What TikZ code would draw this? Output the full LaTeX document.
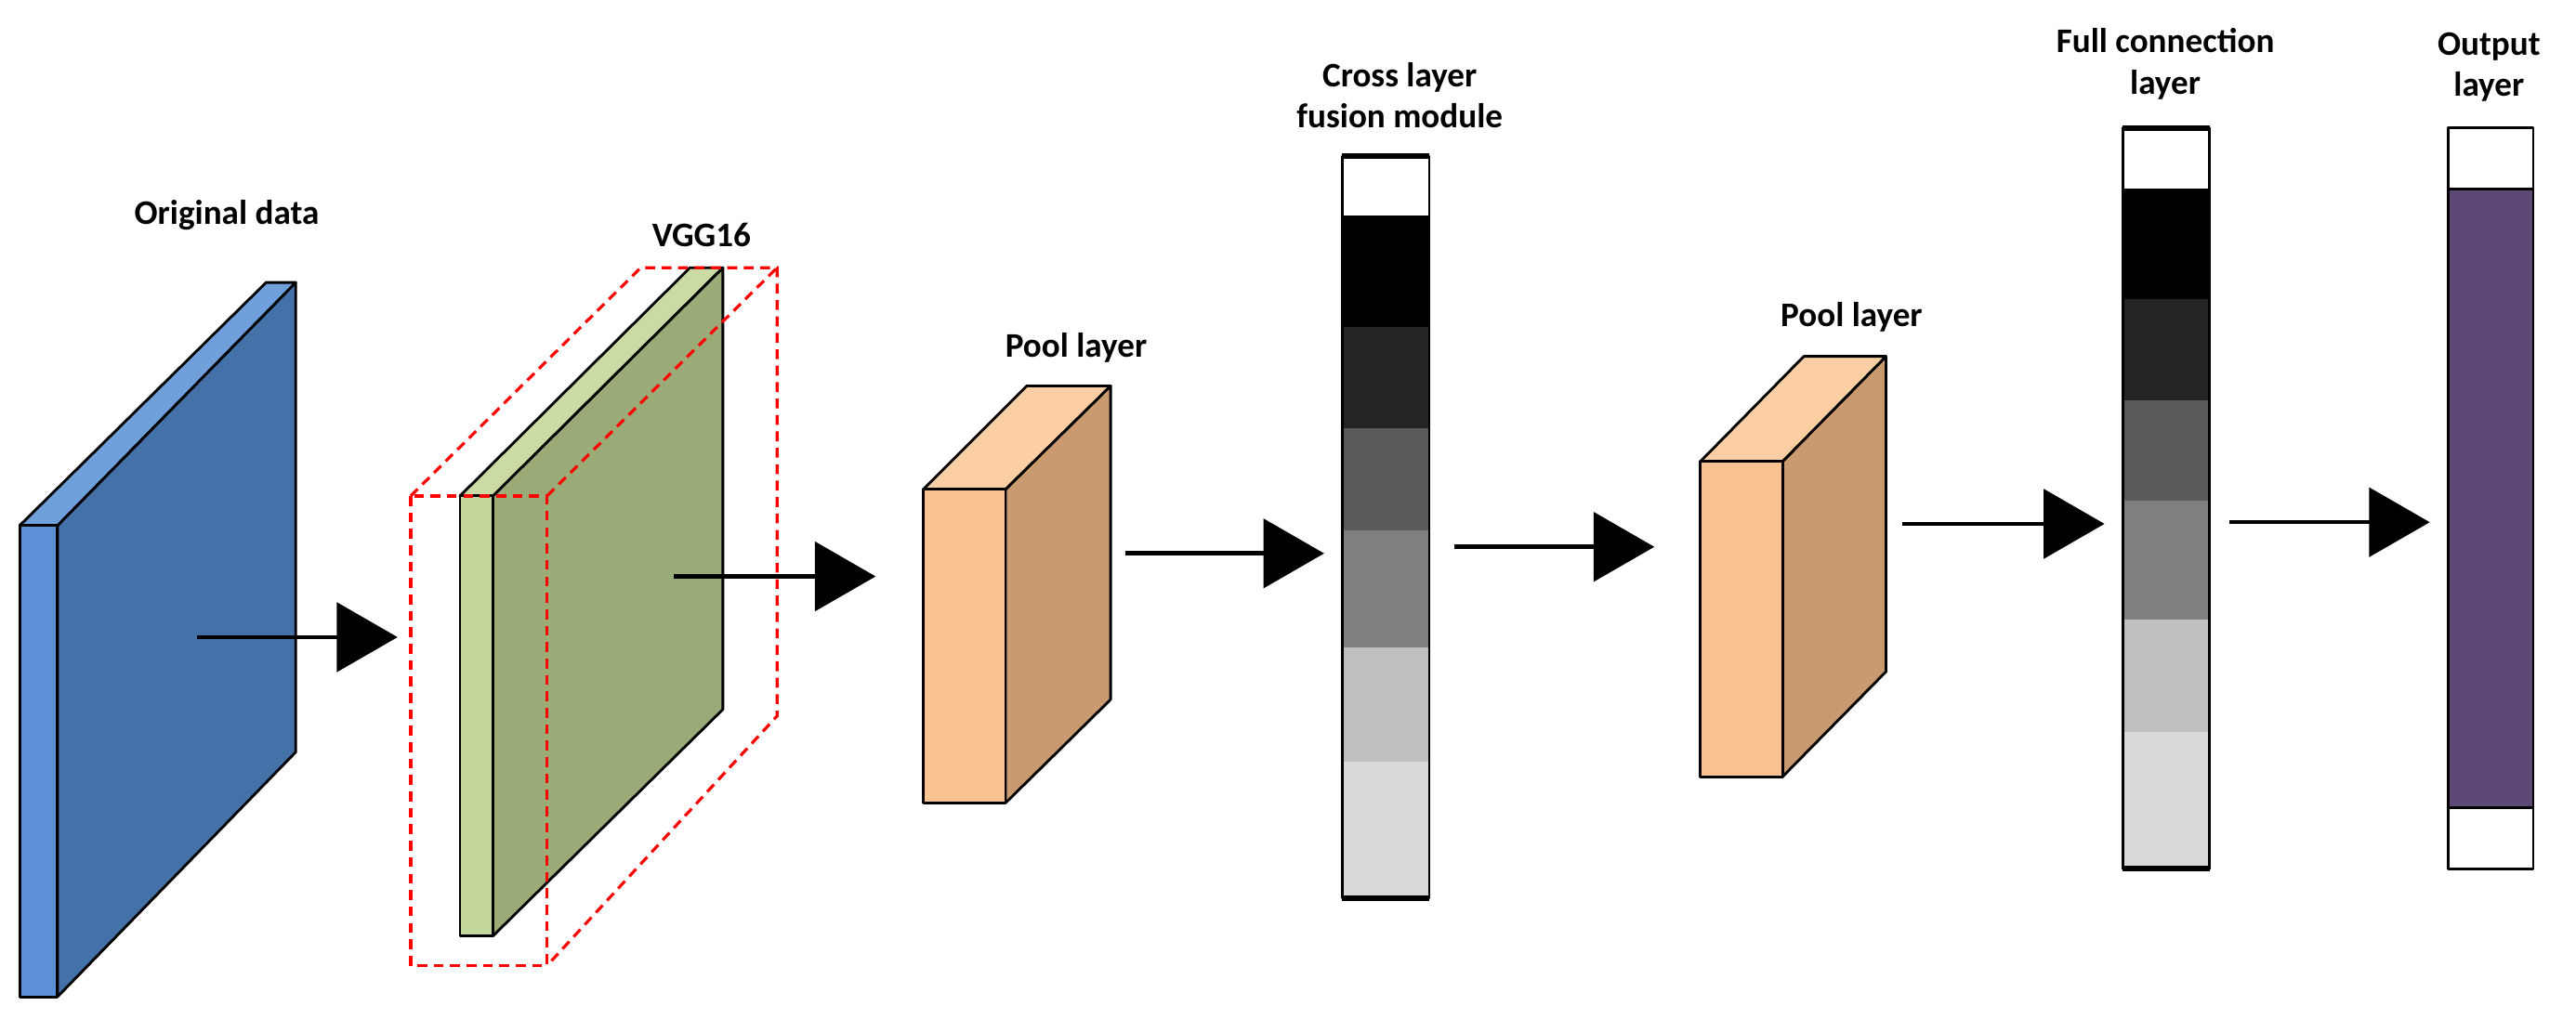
\documentclass[tikz,border=0pt]{standalone}
\usepackage{fontspec}
\setmainfont{Carlito}
\usetikzlibrary{arrows.meta}
\definecolor{bluemain}{HTML}{4472A8}
\definecolor{bluefront}{HTML}{5B8FD6}
\definecolor{bluetop}{HTML}{70A0DC}
\definecolor{greenmain}{HTML}{9BAB78}
\definecolor{greenfront}{HTML}{C3D69B}
\definecolor{greentop}{HTML}{CADBA5}
\definecolor{poolfront}{HTML}{F8C291}
\definecolor{poolside}{HTML}{C9996F}
\definecolor{pooltop}{HTML}{FBCFA3}
\definecolor{g1}{HTML}{242424}
\definecolor{g2}{HTML}{595959}
\definecolor{g3}{HTML}{7F7F7F}
\definecolor{g4}{HTML}{BFBFBF}
\definecolor{g5}{HTML}{D9D9D9}
\definecolor{purp}{HTML}{5E4878}
\begin{document}
\begin{tikzpicture}[x=0.5pt,y=-0.5pt,
  face/.style={draw=black,line width=0.8pt,line join=round},
  flow/.style={line width=1.3pt,-{Triangle[length=18.5pt,width=21pt]}},
  lbl/.style={font=\fontsize{10.5}{12.5}\selectfont\bfseries,align=center},
  red dash/.style={draw=red,line width=0.9pt,dash pattern=on 3pt off 2pt}]
\useasboundingbox (0,0) rectangle (1568,628);
% Original data slab
\fill[bluemain,face] (35,320) -- (180,172) -- (180,458) -- (35,607) -- cycle;
\fill[bluetop,face] (12,320) -- (162,172) -- (180,172) -- (35,320) -- cycle;
\fill[bluefront,face] (12,320) rectangle (35,607);
\node[lbl] (orig) at (138,131) {Original data};
% VGG16 slab
\fill[greenmain,face] (300,302) -- (440,163) -- (440,432) -- (300,570) -- cycle;
\fill[greentop,face] (280,302) -- (420,163) -- (440,163) -- (300,302) -- cycle;
\fill[greenfront,face] (280,302) rectangle (300,570);
\draw[red dash] (250,302) rectangle (333,588);
\draw[red dash] (250,302) -- (390,163) -- (473,163) -- (473,436) -- (333,588);
\draw[red dash] (333,302) -- (473,163);
\node[lbl] (vgg) at (427,143) {VGG16};
% Pool layer 1
\fill[poolside,face] (612,298) -- (676,235) -- (676,426) -- (612,489) -- cycle;
\fill[pooltop,face] (562,298) -- (625,235) -- (676,235) -- (612,298) -- cycle;
\fill[poolfront,face] (562,298) rectangle (612,489);
\node[lbl] (pl1) at (655,212) {Pool layer};
% Cross layer fusion column
\fill[white] (817,95) rectangle (870,131);
\fill[black] (817,131) rectangle (870,199);
\fill[g1] (817,199) rectangle (870,261);
\fill[g2] (817,261) rectangle (870,323);
\fill[g3] (817,323) rectangle (870,394);
\fill[g4] (817,394) rectangle (870,464);
\fill[g5] (817,464) rectangle (870,547);
\draw[face] (817,95) rectangle (870,547);
\draw[line width=1.6pt] (817,95) -- (870,95) (817,547) -- (870,547);
\node[lbl] (clf) at (852,58) {Cross layer\\fusion module};
% Pool layer 2
\fill[poolside,face] (1085,281) -- (1148,217) -- (1148,409) -- (1085,473) -- cycle;
\fill[pooltop,face] (1035,281) -- (1098,217) -- (1148,217) -- (1085,281) -- cycle;
\fill[poolfront,face] (1035,281) rectangle (1085,473);
\node[lbl] (pl2) at (1127,193) {Pool layer};
% Full connection column
\fill[white] (1292,78) rectangle (1345,115);
\fill[black] (1292,115) rectangle (1345,182);
\fill[g1] (1292,182) rectangle (1345,244);
\fill[g2] (1292,244) rectangle (1345,305);
\fill[g3] (1292,305) rectangle (1345,377);
\fill[g4] (1292,377) rectangle (1345,446);
\fill[g5] (1292,446) rectangle (1345,529);
\draw[face] (1292,78) rectangle (1345,529);
\draw[line width=1.6pt] (1292,78) -- (1345,78) (1292,529) -- (1345,529);
\node[lbl] (fcl) at (1318,39) {Full connection\\layer};
% Output column
\fill[white] (1490,78) rectangle (1542,115);
\fill[purp] (1490,115) rectangle (1542,492);
\fill[white] (1490,492) rectangle (1542,529);
\draw[face] (1490,78) rectangle (1542,529);
\draw[line width=0.8pt] (1490,115) -- (1542,115) (1490,492) -- (1542,492);
\node[lbl] (outl) at (1515,41) {Output\\layer};
% arrows
\coordinate (a1s) at (120,388); \coordinate (a1e) at (242,388);
\coordinate (a2s) at (410,351); \coordinate (a2e) at (533,351);
\coordinate (a3s) at (685,337); \coordinate (a3e) at (806,337);
\coordinate (a4s) at (885,333); \coordinate (a4e) at (1007,333);
\coordinate (a5s) at (1158,319); \coordinate (a5e) at (1281,319);
\coordinate (a6s) at (1357,318); \coordinate (a6e) at (1479,318);
\draw[flow] (a1s) -- (a1e);
\draw[flow] (a2s) -- (a2e);
\draw[flow] (a3s) -- (a3e);
\draw[flow] (a4s) -- (a4e);
\draw[flow] (a5s) -- (a5e);
\draw[flow] (a6s) -- (a6e);
\end{tikzpicture}
\end{document}
